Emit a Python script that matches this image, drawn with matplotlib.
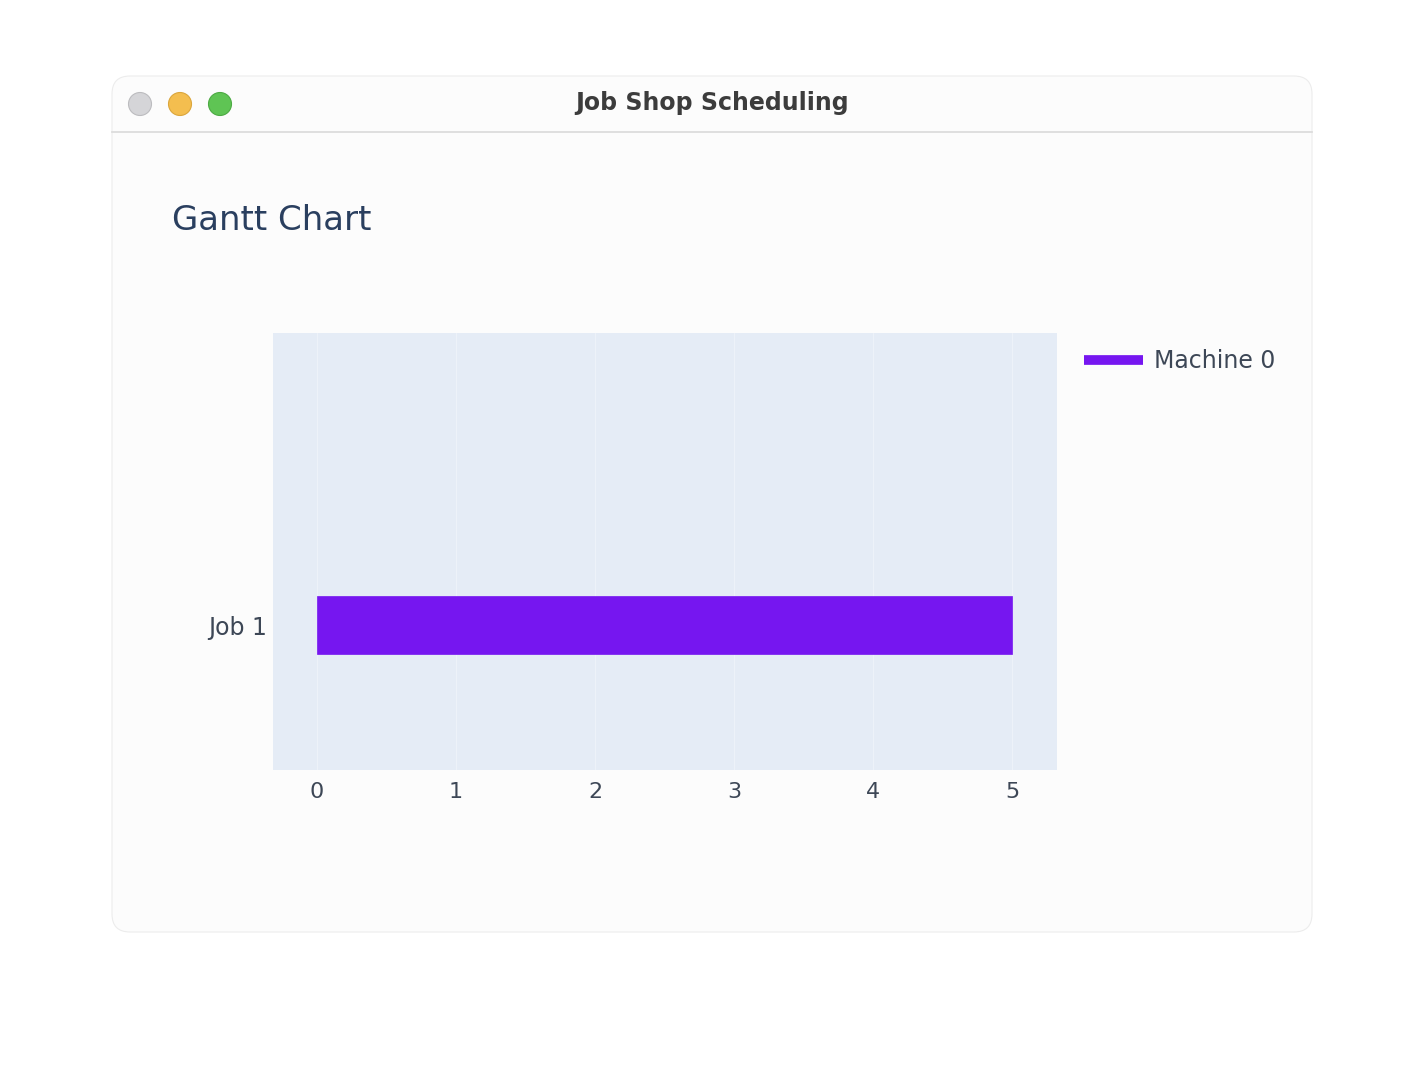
import matplotlib
matplotlib.use("Agg")
import matplotlib.pyplot as plt
from matplotlib.patches import FancyBboxPatch, Circle
from matplotlib.lines import Line2D

# data
jobs = ["Job 1"]
starts = [0]
finishes = [5]
machines = ["Machine 0"]
machine_colors = ["#7616F0"]
x_ticks = [0, 1, 2, 3, 4, 5]

W, H = 1424, 1080
fig = plt.figure(figsize=(W / 100, H / 100), dpi=100)
fig.patch.set_facecolor("white")

# window chrome drawn in pixel coords
bg = fig.add_axes([0, 0, 1, 1])
bg.set_xlim(0, W)
bg.set_ylim(H, 0)
bg.axis("off")
bg.add_patch(FancyBboxPatch((112, 76), 1200, 856, boxstyle="round,pad=0,rounding_size=18",
                            facecolor="#fcfcfc", edgecolor="#ececec", linewidth=0.8))
bg.plot([112, 1312], [132, 132], color="#dadada", linewidth=1.2)
for cx, fc, ec in [(140, "#d5d5d8", "#bcbcbf"), (180, "#f4be4f", "#dba63c"), (220, "#5fc454", "#4caa43")]:
    bg.add_patch(Circle((cx, 104), 11.5, facecolor=fc, edgecolor=ec, linewidth=0.8))
bg.text(712, 103, "Job Shop Scheduling", ha="center", va="center", fontsize=17,
        fontweight="bold", color="#3c3c3c")
bg.text(172, 220, "Gantt Chart", ha="left", va="center", fontsize=24.5, color="#2a3f5f")

# plot area
ax = fig.add_axes([273 / W, (H - 770) / H, 784 / W, 437 / H])
ax.set_facecolor("#e5ecf6")
for i, job in enumerate(jobs):
    ax.barh(i, finishes[i] - starts[i], left=starts[i], height=0.8,
            color=machine_colors[0], edgecolor=machine_colors[0], linewidth=0.5, zorder=3)
ax.set_xlim(-0.317, 5.324)
ax.set_ylim(-2.0, 4.03)
ax.set_xticks(x_ticks)
ax.set_yticks(range(len(jobs)))
ax.set_yticklabels(jobs)
ax.grid(axis="x", color="white", linewidth=0.6, alpha=0.4, zorder=1)
ax.set_axisbelow(True)
for s in ax.spines.values():
    s.set_visible(False)
ax.tick_params(axis="both", length=0, colors="#3d4756")
ax.tick_params(axis="x", pad=9, labelsize=16)
ax.tick_params(axis="y", pad=4, labelsize=17)

handles = [Line2D([0], [0], color=machine_colors[0], linewidth=7, solid_capstyle="butt")]
fig.legend(handles, machines, loc="center left", bbox_to_anchor=(1084 / W, 1 - 361 / H),
           frameon=False, fontsize=17, handlelength=2.5, handletextpad=0.47,
           borderpad=0, borderaxespad=0, labelcolor="#3d4756")

fig.savefig("out.png", dpi=100)
